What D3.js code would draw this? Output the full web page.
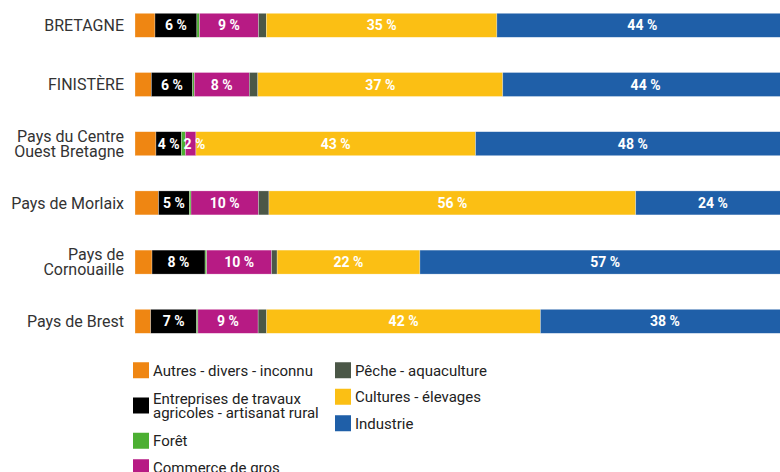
<!DOCTYPE html>
<html>
<head>
<meta charset="utf-8">
<script src="https://cdn.jsdelivr.net/npm/d3@7"></script>
<style>
  body { margin: 0; background: #fff; }
  svg { display: block; font-family: Roboto, "Noto Sans", sans-serif; }
</style>
</head>
<body>
<div id="chart"></div>
<script>
// categories (top to bottom)
const categories = [
  ["BRETAGNE"],
  ["FINISTÈRE"],
  ["Pays du Centre", "Ouest Bretagne"],
  ["Pays de Morlaix"],
  ["Pays de", "Cornouaille"],
  ["Pays de Brest"]
]

// series, in stacking order
const seriesNames = [
  "Autres - divers - inconnu",
  "Entreprises de travaux agricoles - artisanat rural",
  "Forêt",
  "Commerce de gros",
  "Pêche - aquaculture",
  "Cultures - élevages",
  "Industrie"
]
const seriesColors = ["#ef8612", "#000000", "#4caf32", "#b71b84", "#4b5747", "#fbbf14", "#1f5fa8"]

// values in %, one per category
const autres      = [3.05, 2.5, 3.2, 3.6, 2.6, 2.4]
const entreprises = [6.4, 6.3, 3.9, 4.7, 8.1, 7.0]
const foret       = [0.4, 0.25, 0.6, 0.25, 0.25, 0.2]
const commerce    = [9.0, 8.4, 1.6, 10.3, 9.9, 9.2]
const peche       = [1.2, 1.3, 0, 1.6, 0.85, 1.3]
const cultures    = [35.2, 37.4, 42.7, 56.0, 21.8, 41.8]
const industrie   = [44.4, 43.6, 48.0, 23.6, 56.6, 38.0]

const seriesValues = [autres, entreprises, foret, commerce, peche, cultures, industrie]
// which series show a value label
const labelled = [false, true, false, true, false, true, true]

// legend layout: two columns, with line breaks for long names
const legendCols = [
  [{ s: 0, lines: ["Autres - divers - inconnu"] },
   { s: 1, lines: ["Entreprises de travaux", "agricoles - artisanat rural"] },
   { s: 2, lines: ["Forêt"] },
   { s: 3, lines: ["Commerce de gros"] }],
  [{ s: 4, lines: ["Pêche - aquaculture"] },
   { s: 5, lines: ["Cultures - élevages"] },
   { s: 6, lines: ["Industrie"] }]
]

const width = 780, height = 472

const svg = d3.select("#chart")
  .append("svg")
  .attr("width", width)
  .attr("height", height)

// build table for d3.stack
const table = categories.map((c, i) => {
  const row = { key: c.join(" ") }
  seriesNames.forEach((s, j) => { row[s] = seriesValues[j][i] })
  return row
})
const stacked = d3.stack().keys(seriesNames)(table)

const x = d3.scaleLinear()
  .domain([0, 100])
  .range([135, 790])

const y = d3.scaleBand()
  .domain(table.map(d => d.key))
  .range([13.3, 333.3])
  .paddingInner(0.595)
  .paddingOuter(0)

// bars
svg.append("g")
  .selectAll("g.serie")
  .data(stacked)
  .join("g")
  .attr("class", "serie")
  .attr("fill", (d, i) => seriesColors[i])
  .selectAll("rect")
  .data(d => d)
  .join("rect")
  .attr("x", d => x(d[0]))
  .attr("y", d => y(d.data.key))
  .attr("width", d => Math.max(0, x(d[1]) - x(d[0])))
  .attr("height", y.bandwidth())
  .attr("stroke", "rgba(255,255,255,0.45)")
  .attr("stroke-width", 0.6)

// value labels, on top of all bars
// (a label wider than its bar starts near the bar's left edge)
svg.append("g")
  .selectAll("g.labels")
  .data(stacked.filter((d, i) => labelled[i]))
  .join("g")
  .attr("class", "labels")
  .selectAll("text")
  .data(d => d.filter(p => p[1] - p[0] > 0))
  .join("text")
  .attr("x", d => {
    const w = x(d[1]) - x(d[0])
    return w < 20 ? x(d[0]) + 9 : (x(d[0]) + x(d[1])) / 2
  })
  .attr("y", d => y(d.data.key) + y.bandwidth() / 2)
  .attr("dy", "0.36em")
  .attr("text-anchor", "middle")
  .attr("fill", "#fff")
  .attr("font-weight", "bold")
  .attr("font-size", 14)
  .text(d => Math.round(d[1] - d[0]) + " %")

// category labels
const cat = svg.append("g")
  .selectAll("text")
  .data(categories)
  .join("text")
  .attr("text-anchor", "end")
  .attr("fill", "#333")
  .attr("font-size", 16)
  .attr("x", 124)
  .attr("y", d => y(d.join(" ")) + y.bandwidth() / 2)

cat.selectAll("tspan")
  .data(d => d.map((l, k) => ({ l, k, n: d.length })))
  .join("tspan")
  .attr("x", 124)
  .attr("dy", d => d.k === 0 ? (0.36 - (d.n - 1) * 0.47) + "em" : "0.94em")
  .text(d => d.l)

// legend
const legend = svg.append("g")
const colX = [133, 335]
legendCols.forEach((col, ci) => {
  let cy = 357
  col.forEach(item => {
    const h = item.lines.length > 1 ? 44 : 26.5
    const mid = cy + h / 2
    const g = legend.append("g")
    g.append("rect")
      .attr("x", colX[ci])
      .attr("y", mid - 8)
      .attr("width", 16)
      .attr("height", 16)
      .attr("fill", seriesColors[item.s])
    const t = g.append("text")
      .attr("x", colX[ci] + 20)
      .attr("y", mid)
      .attr("fill", "#222")
      .attr("font-size", 15)
    item.lines.forEach((l, k) => {
      t.append("tspan")
        .attr("x", colX[ci] + 20)
        .attr("dy", k === 0 ? (0.36 - (item.lines.length - 1) * 0.46) + "em" : "0.92em")
        .text(l)
    })
    cy += h
  })
})
</script>
</body>
</html>
